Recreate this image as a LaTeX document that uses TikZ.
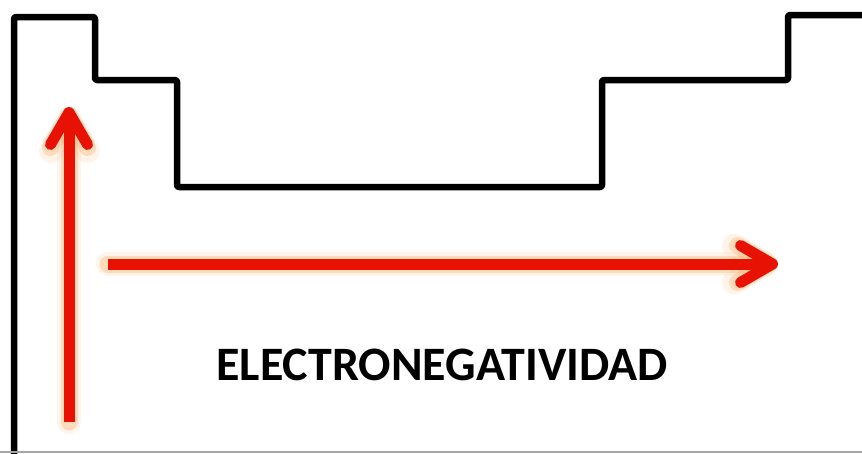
\documentclass[tikz,border=0pt]{standalone}
\usepackage{fontspec}
\setmainfont{Carlito}
\usetikzlibrary{arrows.meta}
\definecolor{trendred}{RGB}{232,18,4}
\definecolor{halo}{RGB}{255,160,80}

\begin{document}
\begin{tikzpicture}[
    x=1pt,y=-1pt,
    outline/.style={line width=6.5pt,line join=round,rounded corners=2pt},
    glowarrow/.style={halo,line cap=round,line join=round,
      -{Straight Barb[length=32pt,width=37pt,round]}},
    trendarrow/.style={trendred,line width=11pt,line join=round,
      -{Straight Barb[length=32pt,width=37pt,round]}},
    label/.style={font=\bfseries\fontsize{48}{48}\selectfont,inner sep=0pt,anchor=base}
    ]

    \useasboundingbox (0,0) rectangle (862,453);

    % table outline
    \draw[outline] (14,456) -- (14,17) -- (95,17) -- (95,80) -- (177,80) -- (177,187)
      -- (602,187) -- (602,80) -- (788,80) -- (788,15) -- (866,15);
    \draw[gray!70,line width=1.5pt] (0,452) -- (862,452);

    % arrow ends
    \coordinate (vstart) at (69,422);
    \coordinate (vend) at (69,107);
    \coordinate (hstart) at (108,264);
    \coordinate (hend) at (778,264);

    \draw[glowarrow,line width=24pt,opacity=0.12] (vstart) -- (vend);
    \draw[glowarrow,line width=24pt,opacity=0.12] (hstart) -- (hend);
    \draw[glowarrow,line width=17pt,opacity=0.3] (vstart) -- (vend);
    \draw[glowarrow,line width=17pt,opacity=0.3] (hstart) -- (hend);
    \draw[trendarrow] (vstart) -- (vend);
    \draw[trendarrow] (hstart) -- (hend);

    \node[label] (electro) at (442,380) {ELECTRONEGATIVIDAD};

\end{tikzpicture}
\end{document}
